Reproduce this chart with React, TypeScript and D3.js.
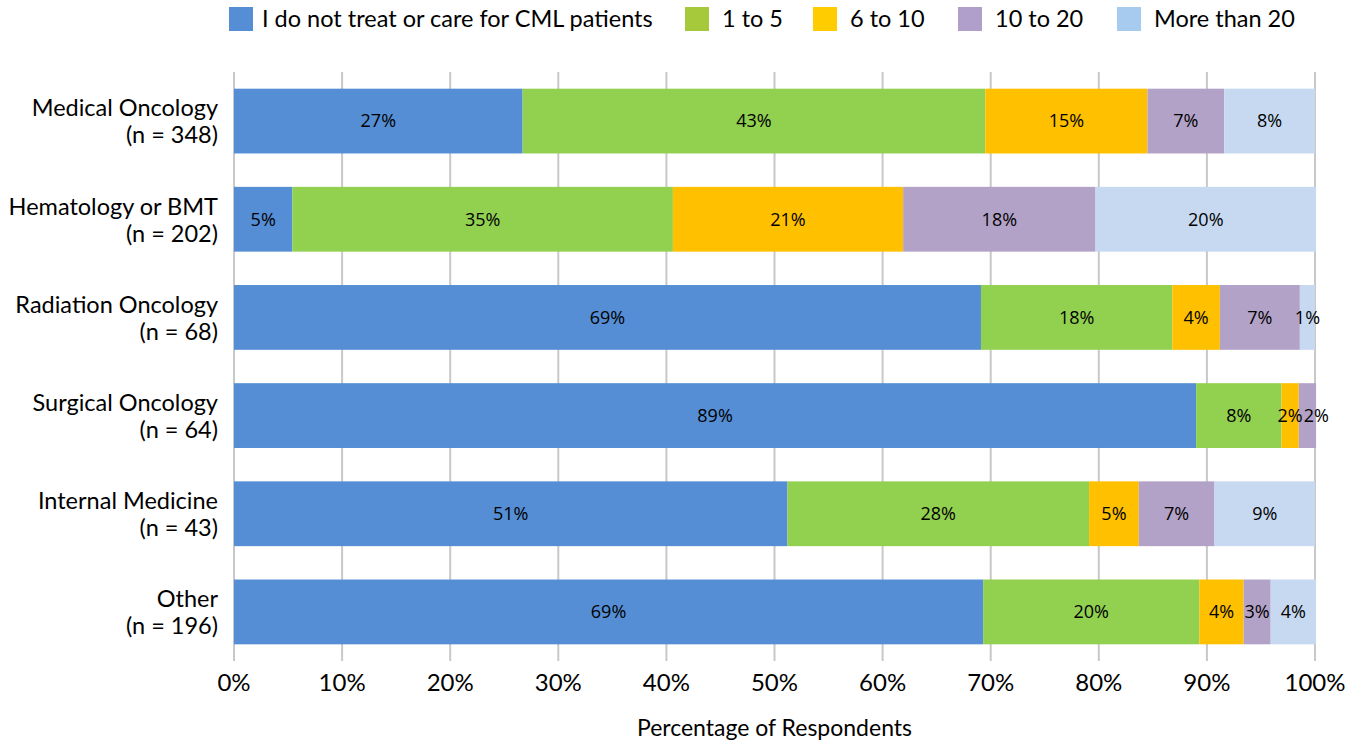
import { useEffect, useRef } from 'react'
import * as d3 from 'd3'

const categories = [
  'Medical Oncology|(n = 348)',
  'Hematology or BMT|(n = 202)',
  'Radiation Oncology|(n = 68)',
  'Surgical Oncology|(n = 64)',
  'Internal Medicine|(n = 43)',
  'Other|(n = 196)',
]

const seriesNames = ['I do not treat or care for CML patients', '1 to 5', '6 to 10', '10 to 20', 'More than 20']

// percent of respondents per specialty, one array per series
const noCare = [26.7, 5.4, 69.1, 89.0, 51.2, 69.3]
const oneToFive = [42.8, 35.2, 17.7, 7.9, 27.9, 20.0]
const sixToTen = [15.0, 21.3, 4.4, 1.6, 4.6, 4.1]
const tenToTwenty = [7.1, 17.8, 7.4, 1.6, 7.0, 2.5]
const moreThanTwenty = [8.4, 20.4, 1.4, 0, 9.3, 4.2]

const barColors = ['#558ED5', '#92D050', '#FFC000', '#B3A2C7', '#C6D9F1']
const legendColors = ['#558ED5', '#A6C93C', '#FFCC00', '#B09FCA', '#A6CBEF']

const xTicks = [0, 10, 20, 30, 40, 50, 60, 70, 80, 90, 100]

const axisFont = 'Lato, "Noto Sans", sans-serif'
const labelFont = '"Open Sans", "Liberation Sans", sans-serif'

export default function App() {
  const svgRef = useRef<SVGSVGElement>(null)
  const width = 1363
  const height = 745

  useEffect(() => {
    if (!svgRef.current) return
    const svg = d3.select(svgRef.current)
    svg.selectAll('*').remove()

    const left = 234
    const right = 1315
    const top = 72
    const bottom = 661

    const x = d3.scaleLinear().domain([0, 100]).range([left, right])
    const y = d3.scaleBand<string>().domain(categories).range([top, bottom]).paddingInner(0.34).paddingOuter(0.17)

    const rows = categories.map((c, i) => ({
      cat: c,
      s0: noCare[i],
      s1: oneToFive[i],
      s2: sixToTen[i],
      s3: tenToTwenty[i],
      s4: moreThanTwenty[i],
    }))
    const keys = ['s0', 's1', 's2', 's3', 's4']
    const stacked = d3.stack<any>().keys(keys)(rows)

    // gridlines
    svg.append('g')
      .selectAll('line')
      .data(xTicks)
      .enter()
      .append('line')
      .attr('x1', (d) => x(d))
      .attr('x2', (d) => x(d))
      .attr('y1', top)
      .attr('y2', bottom)
      .attr('stroke', '#C8C8C8')
      .attr('stroke-width', 2)

    // bars
    const groups = svg.append('g')
      .selectAll('g')
      .data(stacked)
      .enter()
      .append('g')
      .attr('fill', (_d, i) => barColors[i])

    groups.selectAll('rect')
      .data((d) => d)
      .enter()
      .append('rect')
      .attr('x', (d) => x(d[0]))
      .attr('y', (d) => y(d.data.cat)!)
      .attr('width', (d) => Math.max(0, x(d[1]) - x(d[0])))
      .attr('height', y.bandwidth())

    // data labels
    const labels = svg.append('g')
    const labelRows: Record<string, SVGTextElement[]> = {}
    stacked.forEach((series) => {
      series.forEach((p: any) => {
        if (p[1] - p[0] <= 0.5) return
        const t = labels.append('text')
          .attr('x', (x(p[0]) + x(p[1])) / 2)
          .attr('y', y(p.data.cat)! + y.bandwidth() / 2)
          .attr('dy', '0.35em')
          .attr('text-anchor', 'middle')
          .attr('fill', '#000')
          .style('font-family', labelFont)
          .style('font-size', '18px')
          .text(`${Math.round(p[1] - p[0])}%`)
        ;(labelRows[p.data.cat] ||= []).push(t.node() as SVGTextElement)
      })
    })
    // push colliding labels to the right, like the original does
    Object.values(labelRows).forEach((nodes) => {
      let prevRight = -Infinity
      nodes.forEach((n) => {
        const w = n.getComputedTextLength()
        let cx = +n.getAttribute('x')!
        if (cx - w / 2 < prevRight + 1) cx = prevRight + 1 + w / 2
        n.setAttribute('x', String(cx))
        prevRight = cx + w / 2
      })
    })

    // category labels
    const catLabels = svg.append('g')
      .selectAll('text')
      .data(categories)
      .enter()
      .append('text')
      .attr('x', 218)
      .attr('y', (d) => y(d)! + y.bandwidth() / 2)
      .attr('text-anchor', 'end')
      .style('font-family', axisFont)
      .style('font-size', '23.5px')
      .attr('fill', '#000')
    catLabels.append('tspan').attr('x', 218).attr('dy', '-0.2em').text((d) => d.split('|')[0])
    catLabels.append('tspan').attr('x', 218).attr('dy', '1.15em').text((d) => d.split('|')[1])

    // x tick labels
    svg.append('g')
      .selectAll('text')
      .data(xTicks)
      .enter()
      .append('text')
      .attr('x', (d) => x(d))
      .attr('y', 683)
      .attr('dy', '0.35em')
      .attr('text-anchor', 'middle')
      .style('font-family', axisFont)
      .style('font-size', '24px')
      .text((d) => `${d}%`)

    svg.append('text')
      .attr('x', (left + right) / 2)
      .attr('y', 728)
      .attr('dy', '0.35em')
      .attr('text-anchor', 'middle')
      .style('font-family', axisFont)
      .style('font-size', '23px')
      .text('Percentage of Respondents')

    // legend, item positions as in the original
    const legendPos = [229, 685, 813, 958, 1117]
    const legend = svg.append('g')
      .selectAll('g')
      .data(seriesNames)
      .enter()
      .append('g')
      .attr('transform', (_d, i) => `translate(${legendPos[i]},0)`)
    legend.append('rect')
      .attr('x', 0)
      .attr('y', 7)
      .attr('width', 24)
      .attr('height', 24)
      .attr('fill', (_d, i) => legendColors[i])
    legend.append('text')
      .attr('x', (_d, i) => (i === 0 ? 33 : 37))
      .attr('y', 19)
      .attr('dy', '0.35em')
      .style('font-family', axisFont)
      .style('font-size', '23.5px')
      .text((d) => d)
  }, [])

  return (
    <svg
      ref={svgRef}
      width={width}
      height={height}
      style={{ position: 'absolute', left: 0, top: 0, background: '#fff' }}
    />
  )
}
